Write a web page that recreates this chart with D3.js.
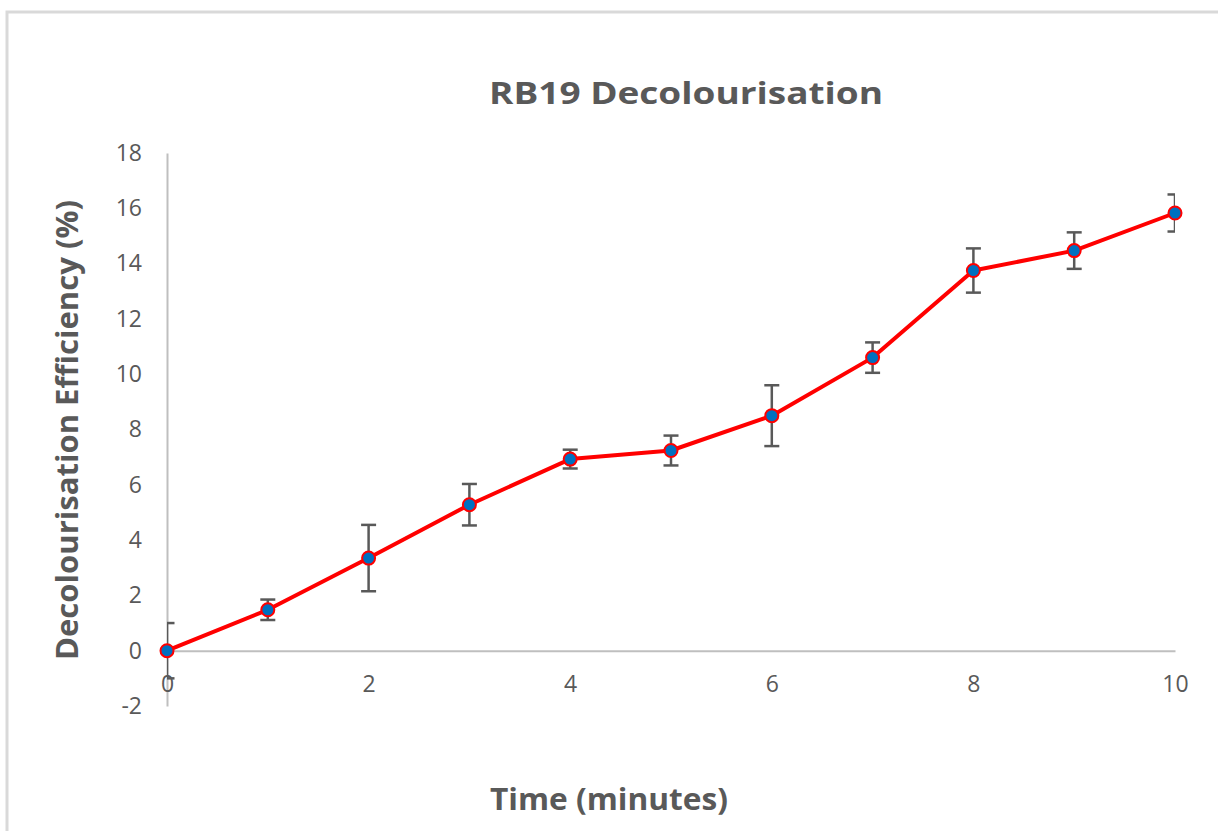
<!DOCTYPE html>
<html>
<head>
<meta charset="utf-8">
<script src="https://cdn.jsdelivr.net/npm/d3@7"></script>
<style>
  html, body { margin: 0; padding: 0; background: #fff; }
  svg { display: block; }
  text { font-family: "Open Sans", "Noto Sans", sans-serif; fill: #595959; }
</style>
</head>
<body>
<script>
// Time points (minutes), mean decolourisation efficiency (%) and its error
const times = [0, 1, 2, 3, 4, 5, 6, 7, 8, 9, 10];
const efficiency = [0, 1.48, 3.35, 5.28, 6.93, 7.24, 8.5, 10.6, 13.75, 14.47, 15.83];
const errors = [1.0, 0.37, 1.2, 0.75, 0.34, 0.54, 1.1, 0.55, 0.8, 0.66, 0.67];
const xTicks = [0, 2, 4, 6, 8, 10];
const yTicks = [-2, 0, 2, 4, 6, 8, 10, 12, 14, 16, 18];

const chartTitle = "RB19 Decolourisation";
const xTitle = "Time (minutes)";
const yTitle = "Decolourisation Efficiency (%)";

const W = 1218, H = 831;
const plot = { left: 167, right: 1175, top: 153, bottom: 706 };

const svg = d3.select("body").append("svg")
  .attr("width", W).attr("height", H);

// chart frame (runs off the right and bottom edges)
svg.append("rect")
  .attr("x", 7).attr("y", 12)
  .attr("width", W + 20).attr("height", H + 20)
  .attr("fill", "#fff")
  .attr("stroke", "#d9d9d9").attr("stroke-width", 3);

const x = d3.scaleLinear().domain([0, 10]).range([plot.left, plot.right]);
const y = d3.scaleLinear().domain([-2, 18]).range([plot.bottom, plot.top]);

// clip for error bars at the plot edges
svg.append("clipPath").attr("id", "plotClip")
  .append("rect")
  .attr("x", plot.left).attr("y", 0)
  .attr("width", plot.right - plot.left).attr("height", H);

const plainNum = d => String(d);

// Y axis
const yAxis = svg.append("g")
  .attr("transform", `translate(${plot.left},0)`)
  .call(d3.axisLeft(y).tickValues(yTicks).tickSize(0).tickPadding(25).tickFormat(plainNum));
yAxis.select(".domain").attr("stroke", "#bfbfbf").attr("stroke-width", 2);
yAxis.selectAll("text")
  .style("font-size", "23px")
  .attr("fill", "#595959");

// X axis drawn along y = 0
const xAxis = svg.append("g")
  .attr("transform", `translate(0,${y(0)})`)
  .call(d3.axisBottom(x).tickValues(xTicks).tickSize(0).tickPadding(25).tickFormat(plainNum));
xAxis.select(".domain").attr("stroke", "#bfbfbf").attr("stroke-width", 2);
xAxis.selectAll("text")
  .style("font-size", "23px")
  .attr("fill", "#595959");

const data = times.map((t, i) => ({ t, v: efficiency[i], e: errors[i] }));

// Error bars
const eb = svg.append("g")
  .attr("clip-path", "url(#plotClip)")
  .attr("stroke", "#595959").attr("stroke-width", 2.5).attr("fill", "none");
const cap = 7.5;
data.forEach(d => {
  eb.append("line")
    .attr("x1", x(d.t)).attr("x2", x(d.t))
    .attr("y1", y(d.v + d.e)).attr("y2", y(d.v - d.e));
  [d.v + d.e, d.v - d.e].forEach(val => {
    eb.append("line")
      .attr("x1", x(d.t) - cap).attr("x2", x(d.t) + cap)
      .attr("y1", y(val)).attr("y2", y(val));
  });
});

// Series line
svg.append("path")
  .datum(data)
  .attr("fill", "none")
  .attr("stroke", "#ff0000")
  .attr("stroke-width", 4)
  .attr("stroke-linejoin", "round")
  .attr("d", d3.line().x(d => x(d.t)).y(d => y(d.v)));

// Markers
svg.append("g").selectAll("circle")
  .data(data)
  .join("circle")
  .attr("cx", d => x(d.t))
  .attr("cy", d => y(d.v))
  .attr("r", 6.5)
  .attr("fill", "#0070c0")
  .attr("stroke", "#ff0000")
  .attr("stroke-width", 2);

// Titles
svg.append("text")
  .attr("x", 686).attr("y", 104)
  .attr("text-anchor", "middle")
  .attr("textLength", 394).attr("lengthAdjust", "spacingAndGlyphs")
  .style("font-size", "30px").style("font-weight", "bold")
  .text(chartTitle);

svg.append("text")
  .attr("x", 609).attr("y", 810)
  .attr("text-anchor", "middle")
  .attr("textLength", 238).attr("lengthAdjust", "spacingAndGlyphs")
  .style("font-size", "30px").style("font-weight", "bold")
  .text(xTitle);

svg.append("text")
  .attr("transform", "translate(78,430) rotate(-90)")
  .attr("text-anchor", "middle")
  .attr("textLength", 460).attr("lengthAdjust", "spacingAndGlyphs")
  .style("font-size", "30px").style("font-weight", "bold")
  .text(yTitle);
</script>
</body>
</html>
